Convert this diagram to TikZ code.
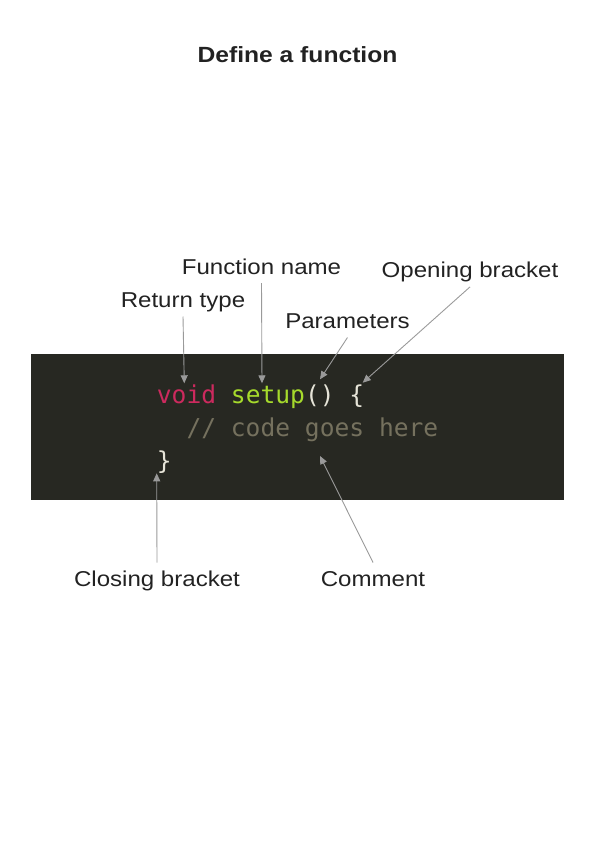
\documentclass[tikz,border=0pt]{standalone}
\usepackage{fontspec}
\setmainfont{Liberation Sans}[FakeStretch=1.12]
\newfontfamily\codefont{DejaVu Sans Mono}
\usetikzlibrary{arrows.meta}
\definecolor{codebg}{HTML}{272822}
\definecolor{kwcol}{HTML}{CC2A5E}
\definecolor{fncol}{HTML}{A6DA2C}
\definecolor{cmtcol}{HTML}{75715E}
\definecolor{plain}{HTML}{E6E4D8}
\definecolor{ink}{HTML}{222222}
\definecolor{ptrgray}{HTML}{9A9A9A}
\tikzset{
  lbl/.style={font=\fontsize{21.5bp}{25bp}\selectfont,text=ink,anchor=base,inner sep=4bp,text height=20bp,text depth=5bp},
  code/.style={font=\codefont\fontsize{24.6bp}{30bp}\selectfont,inner sep=0pt,anchor=base west,text=plain},
  ptr/.style={ptrgray,line width=0.9bp,-{Triangle[length=8bp,width=7bp]}}
}

\begin{document}
\begin{tikzpicture}[x=1bp,y=-1bp]
\useasboundingbox (0,0) rectangle (595,842);
\node[font=\bfseries\fontsize{22bp}{26bp}\selectfont,text=ink,anchor=base] (title) at (297.5,62) {Define a function};
% code panel
\fill[codebg] (31,354) rectangle (564,500);
\node[code] (line1) at (156.7,403.3) {\textcolor{kwcol}{void} \textcolor{fncol}{setup}() \{};
\node[code,text=cmtcol] (line2) at (186.3,436.6) {// code goes here};
\node[code] (line3) at (156.7,469.9) {\}};
% labels
\node[lbl] (rettype) at (183,307.3) {Return type};
\node[lbl] (fname) at (261.5,274) {Function name};
\node[lbl] (params) at (347.5,328.3) {Parameters};
\node[lbl] (opening) at (470,277.7) {Opening bracket};
\node[lbl] (closing) at (157,586.7) {Closing bracket};
\node[lbl] (comment) at (373,586.7) {Comment};
% arrow tips
\coordinate (voidtip) at (184.3,383.3);
\coordinate (setuptip) at (262,383.3);
\coordinate (partip) at (320,379.3);
\coordinate (bracetip) at (362.7,382.7);
\coordinate (closetip) at (156.7,473.3);
\coordinate (cmttip) at (320,456);
\foreach \from/\to in {rettype.south/voidtip,fname.south/setuptip,params.south/partip,
  opening.south/bracetip,closing.north/closetip,comment.north/cmttip}
  \draw[ptr] (\from) -- (\to);
\end{tikzpicture}
\end{document}
